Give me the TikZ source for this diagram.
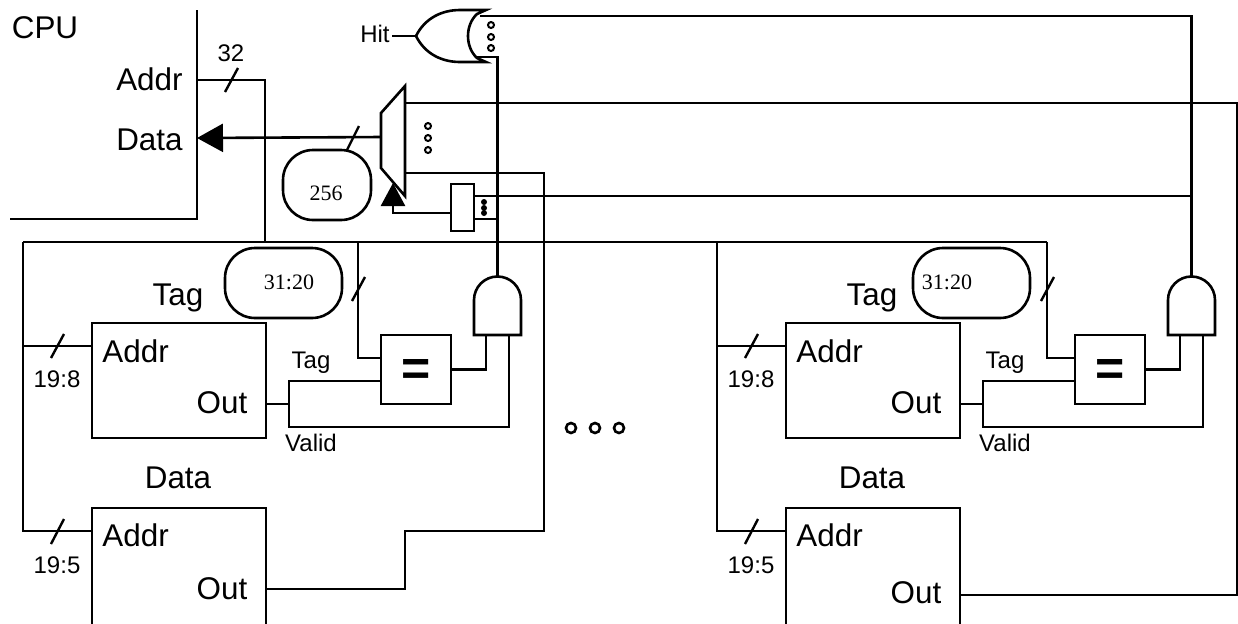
\documentclass[tikz,border=0pt]{standalone}
\usepackage{fontspec}
\setmainfont{Liberation Sans}
\newfontfamily\numfont{Liberation Serif}
\usetikzlibrary{arrows.meta}
\tikzset{
  wire/.style={line width=1.3pt, line join=miter},
  tick/.style={line width=1.2pt},
  membox/.style={draw, line width=1.3pt, anchor=north west, outer sep=0pt, minimum width=87pt, minimum height=57.5pt, inner sep=0pt},
  eqbox/.style={draw, line width=1.3pt, anchor=north west, outer sep=0pt, minimum width=35pt, minimum height=34.5pt, inner sep=0pt},
  eqsign/.style={font=\fontsize{25pt}{25pt}\bfseries, inner sep=0pt},
  pill/.style={draw, line width=1.3pt, anchor=north west, outer sep=0pt, rounded corners=15pt, inner sep=0pt},
  biglab/.style={font=\fontsize{15.7pt}{16pt}\selectfont, inner sep=0pt},
  smalllab/.style={font=\fontsize{12pt}{12pt}\selectfont, inner sep=0pt},
  numlab/.style={font=\fontsize{11pt}{11pt}\numfont, inner sep=0pt},
  hollowdot/.style={draw, line width=1pt, fill=white},
}
\begin{document}
\begin{tikzpicture}[x=0.5pt, y=-0.5pt]
  \clip (0,0) rectangle (1238,623);
  % --- cpu
  \coordinate (cputop) at (197,10);
  \coordinate (cpucorner) at (197,219);
  \coordinate (cpuend) at (10,219);
  \draw[wire] (cputop) -- (cpucorner) -- (cpuend);
  \node[biglab] (cpulab) at (45,28) {CPU};
  \node[biglab, anchor=east] (addrlab) at (183,79) {Addr};
  \node[biglab, anchor=east] (datalab) at (183,140) {Data};
  \coordinate (cpuaddr) at (197,80);
  \coordinate (cpudata) at (197,138);
  \coordinate (addrturn) at (265,80);
  \coordinate (addrbus) at (265,242);
  \draw[wire] (cpuaddr) -- (addrturn) -- (addrbus);
  \draw[tick] (225,92) -- (238,68);
  \node[smalllab] (addrwidth) at (231,53) {32};
  % --- the two ways
  \foreach \s/\dx/\ovx/\ovt/\cx/\doy in {l/0/225/289/358/589, r/694/219/253/353/593}{
    \begin{scope}[xshift=\dx*0.5pt]
      \node[membox] (tagmem\s) at (92,323) {};
      \node[membox, minimum height=80pt] (datamem\s) at (92,508) {};
      \node[eqbox] (eq\s) at (381,335) {};
      \node[eqsign] (eqlab\s) at (416.5,372) {=};
      \node[pill, minimum width=58.5pt, minimum height=35pt] (oval\s) at (\ovx,248) {};
      \node[numlab] (ovallab\s) at (\ovt,282) {31:20};
      \node[biglab] (taglab\s) at (178,298) {Tag};
      \node[biglab] (datatit\s) at (178,478) {Data};
      \foreach \n/\yy/\yo in {tag/351/403, dat/535/\doy}{
        \node[biglab, anchor=west] (\n addr\s) at (102,\yy) {Addr};
        \node[biglab] (\n out\s) at (222,\yo) {Out};
      }
      \node[smalllab] (tagwidth\s) at (57,379) {19:8};
      \node[smalllab] (datawidth\s) at (57,565) {19:5};
      \node[smalllab] (tagout\s) at (311,363) {Tag};
      \node[smalllab] (validout\s) at (311,443) {Valid};
      % and gate
      \draw[wire] (474,335) -- (474,300) arc[start angle=180, end angle=360, radius=23.5]
        -- (521,335) -- cycle;
      \coordinate (andtop\s) at (497.5,276.5);
      \coordinate (andin\s) at (486,335);
      \coordinate (andvalid\s) at (509,335);
      % wires
      \coordinate (west\s) at (23,242);
      \coordinate (tagin\s) at (92,346);
      \coordinate (tagjoin\s) at (23,346);
      \coordinate (datin\s) at (92,531);
      \coordinate (cmpbus\s) at (\cx,242);
      \coordinate (cmpin\s) at (381,358);
      \coordinate (tagsplit\s) at (289,404);
      \coordinate (tagrun\s) at (381,381);
      \coordinate (outstart\s) at (266,404);
      \draw[wire] (west\s) |- (datin\s);
      \draw[wire] (tagjoin\s) -- (tagin\s);
      \draw[wire] (cmpbus\s) |- (cmpin\s);
      \draw[wire] (outstart\s) -- (tagsplit\s);
      \draw[wire] (tagrun\s) -| (289,427) -| (andvalid\s);
      \draw[wire] (eq\s.east) -| (andin\s);
      \foreach \ax/\ay/\bx/\by in {51/358/64/334, 51/544/64/519}{
        \draw[tick] (\ax,\ay) -- (\bx,\by);
      }
      \draw[tick] (\cx-6,301) -- (\cx+7,277);
    \end{scope}
  }
  % --- bus to both ways
  \draw[wire] (westl) -- (cmpbusr);
  % --- mux
  \draw[wire] (405,86) -- (381,113) -- (381,168) -- (405,196) -- cycle;
  \coordinate (muxout) at (381,137);
  \coordinate (muxa) at (405,103);
  \coordinate (muxb) at (405,173);
  \coordinate (muxsel) at (393,183);
  \draw[wire, -{Triangle[length=13pt, width=14pt]}] (muxout) -- (cpudata);
  \draw[tick] (347,150) -- (359,126);
  \node[pill, minimum width=44pt, minimum height=35pt] (widthoval) at (283,150) {};
  \node[numlab] (widthlab) at (326,193) {256};
  \foreach \yy in {126,138,150}{ \draw[hollowdot] (428,\yy) circle (3); }
  % --- way select
  \node[draw, line width=1.3pt, anchor=north west, outer sep=0pt, minimum width=11.5pt, minimum height=23.5pt, inner sep=0pt] (sel) at (451,184) {};
  \coordinate (selin) at (451,213);
  \coordinate (sela) at (474,196);
  \coordinate (selb) at (474,219);
  \coordinate (selright) at (1192,196);
  \coordinate (selhit) at (497,219);
  \draw[wire] (sela) -- (selright);
  \draw[wire] (selb) -- (selhit);
  \draw[wire, -{Triangle[length=11.5pt, width=12pt]}] (selin) -| (muxsel);
  \foreach \yy in {202,208,213}{ \fill (484,\yy) circle (3); }
  % --- hit gate
  \draw[wire] (416,36) .. controls (425,18) and (442,10) .. (460,10) -- (486,10)
    -- (477,14) .. controls (465,25) and (465,47) .. (477,58) -- (486,62) -- (460,62)
    .. controls (442,62) and (425,54) .. (416,36) -- cycle;
  \coordinate (hitin) at (416,36);
  \coordinate (hitout) at (392,36);
  \node[smalllab, anchor=east] (hitlab) at (390,34) {Hit};
  \draw[wire] (hitin) -- (hitout);
  \foreach \yy in {25,37,48}{ \draw[hollowdot] (491,\yy) circle (3); }
  \coordinate (hita) at (480,16);
  \coordinate (hitb) at (477,57);
  \draw[wire] (hita) -| (andtopr);
  \draw[wire] (hitb) -| (andtopl);
  % --- data out routes
  \coordinate (datloutl) at (266,589);
  \coordinate (datloutr) at (960,595);
  \coordinate (rightrail) at (1237,103);
  \draw[wire] (datloutl) -- (405,589) -- (405,531) -- (544,531) |- (muxb);
  \draw[wire] (datloutr) -| (rightrail) -- (muxa);
  % --- more ways
  \foreach \xx in {571,595,619}{ \draw[hollowdot, line width=1.3pt] (\xx,428) circle (5); }
\end{tikzpicture}
\end{document}
